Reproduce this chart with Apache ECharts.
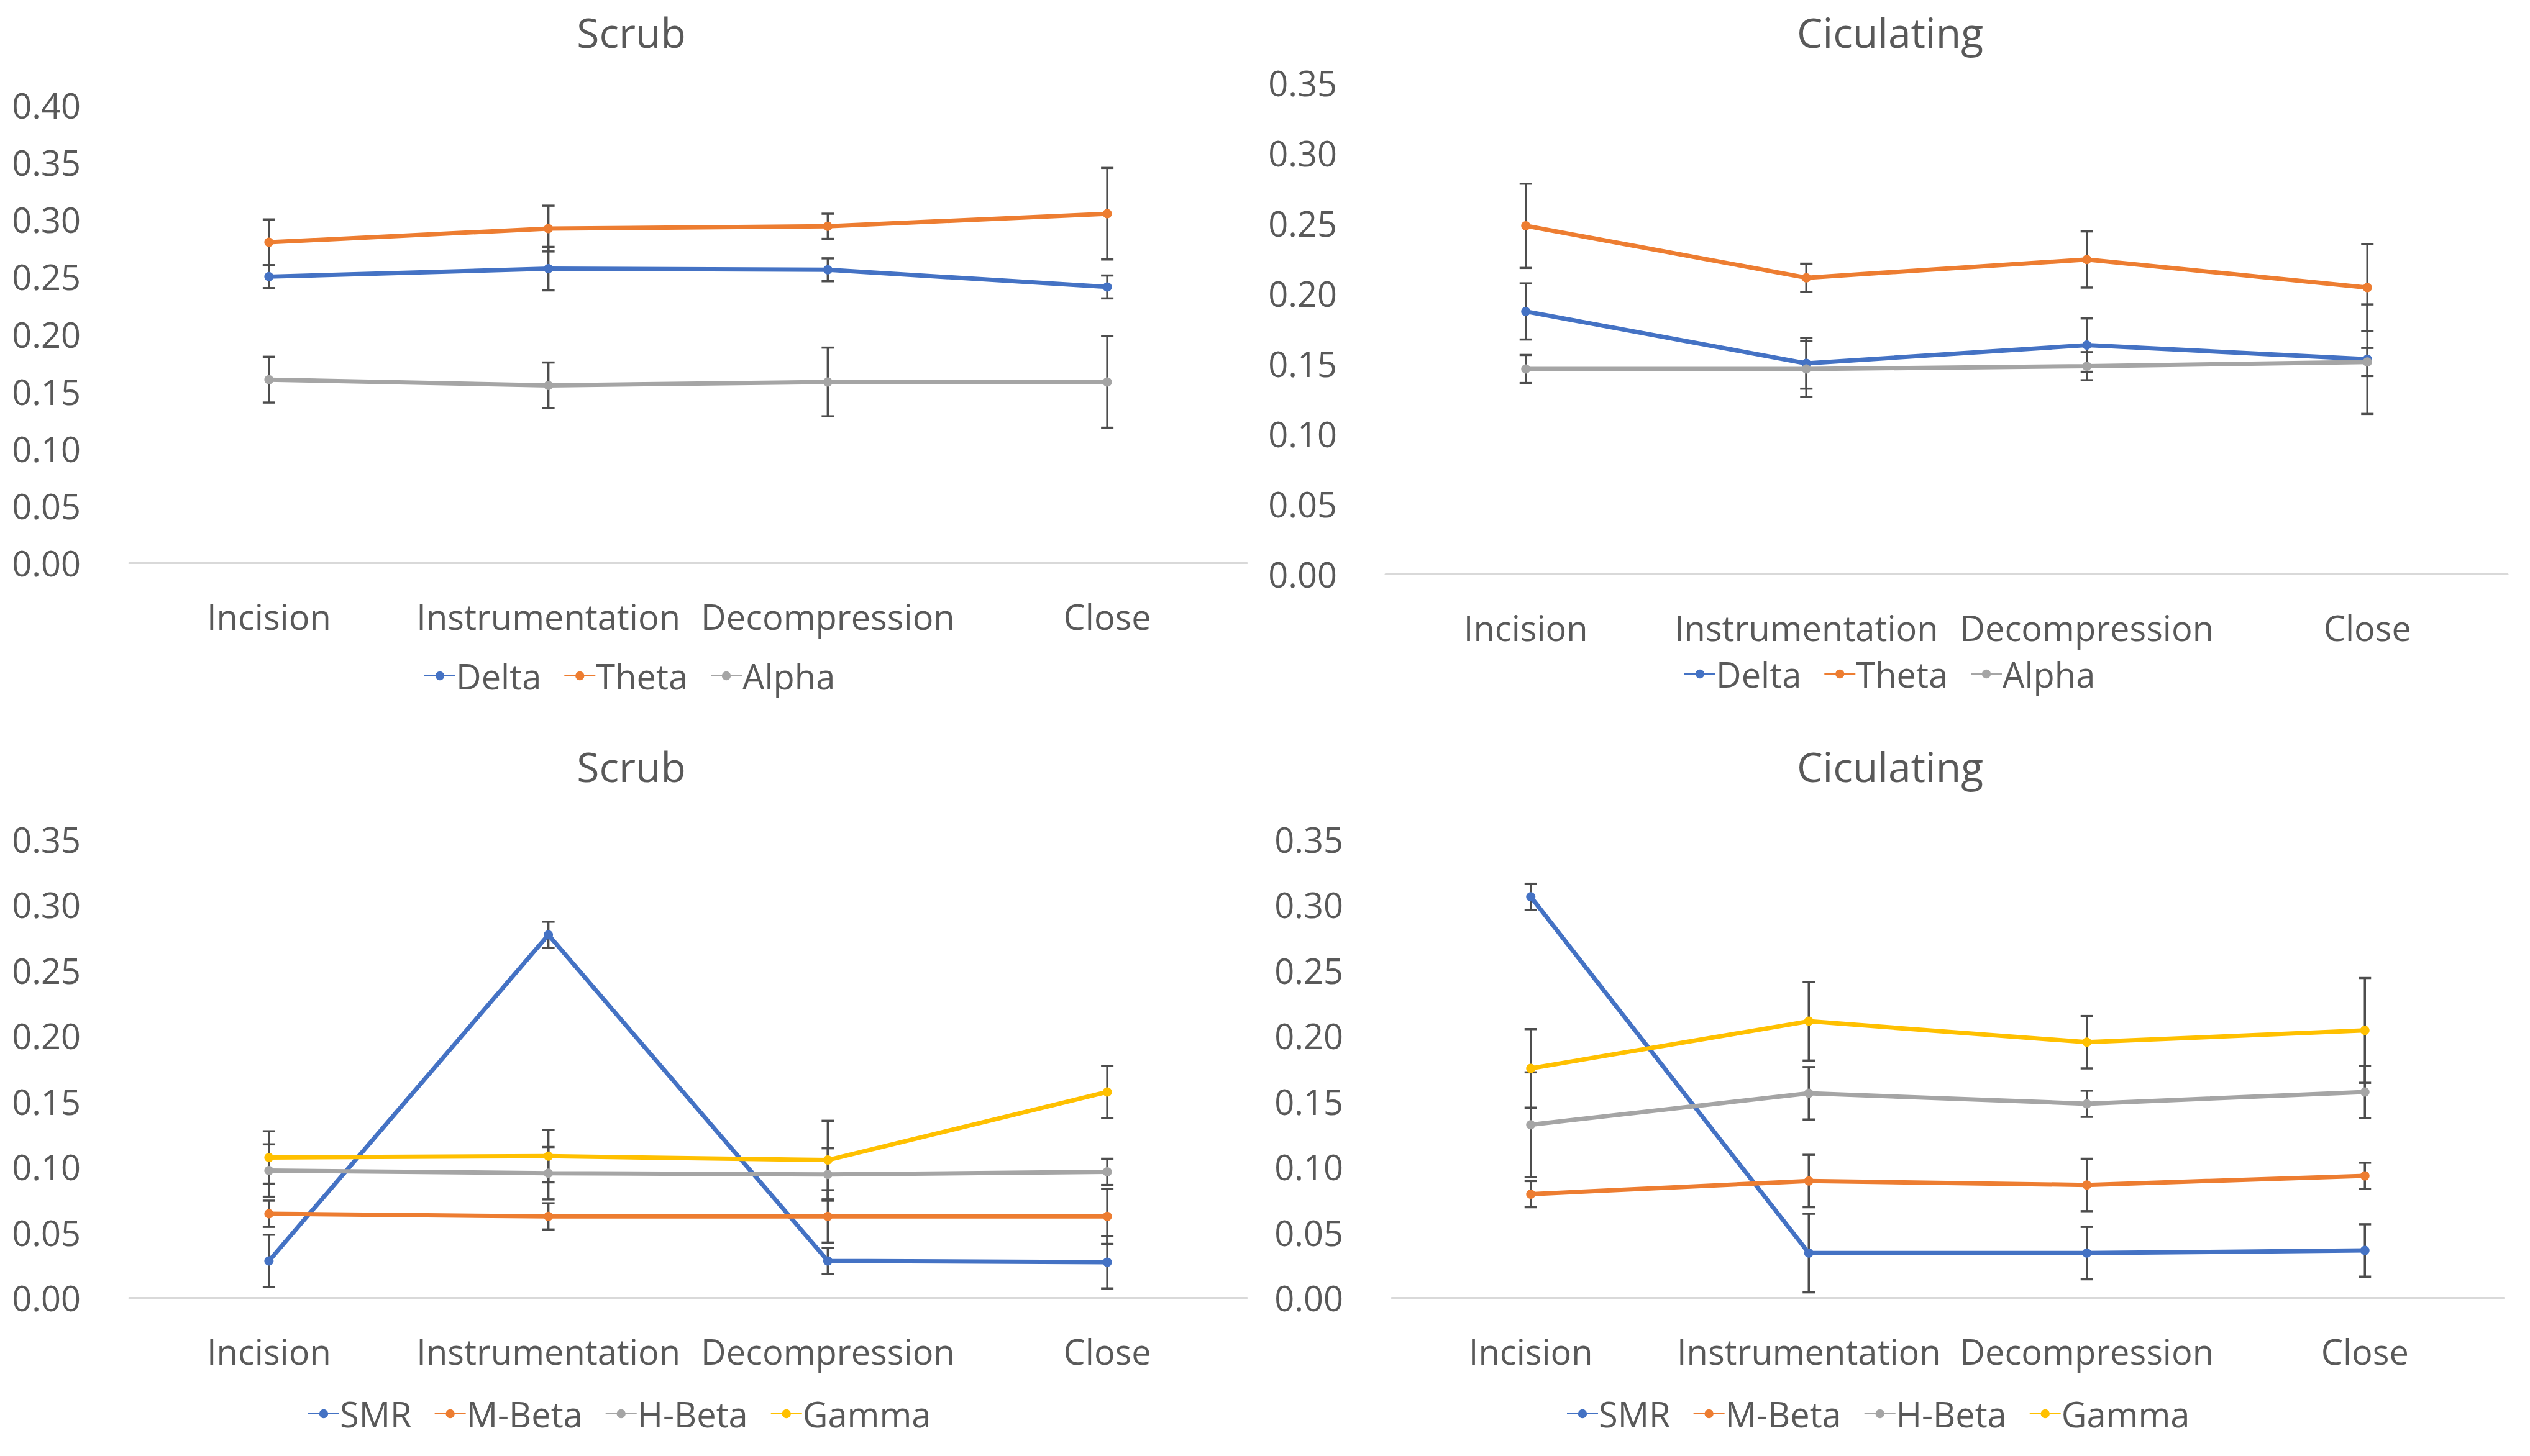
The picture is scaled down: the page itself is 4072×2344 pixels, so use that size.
<!DOCTYPE html>
<html>
<head>
<meta charset="utf-8">
<script src="https://cdn.jsdelivr.net/npm/echarts@6/dist/echarts.min.js"></script>
<style>
  html, body { margin: 0; padding: 0; background: #ffffff; }
  #chart { width: 4072px; height: 2344px; }
</style>
</head>
<body>
<div id="chart"></div>
<script>
// ---------- data ----------
const categories = ['Incision', 'Instrumentation', 'Decompression', 'Close'];

// Top-left: Scrub (Delta / Theta / Alpha)
const scrubDelta    = [0.250, 0.257, 0.256, 0.241];
const scrubDeltaErr = [0.010, 0.019, 0.010, 0.010];
const scrubTheta    = [0.280, 0.292, 0.294, 0.305];
const scrubThetaErr = [0.020, 0.020, 0.011, 0.040];
const scrubAlpha    = [0.160, 0.155, 0.158, 0.158];
const scrubAlphaErr = [0.020, 0.020, 0.030, 0.040];

// Top-right: Ciculating (Delta / Theta / Alpha)
const circDelta    = [0.187, 0.150, 0.163, 0.153];
const circDeltaErr = [0.020, 0.018, 0.019, 0.039];
const circTheta    = [0.248, 0.211, 0.224, 0.204];
const circThetaErr = [0.030, 0.010, 0.020, 0.031];
const circAlpha    = [0.146, 0.146, 0.148, 0.151];
const circAlphaErr = [0.010, 0.020, 0.010, 0.010];

// Bottom-left: Scrub (SMR / M-Beta / H-Beta / Gamma)
const scrubSMR      = [0.028, 0.277, 0.028, 0.027];
const scrubSMRErr   = [0.020, 0.010, 0.010, 0.020];
const scrubMBeta    = [0.064, 0.062, 0.062, 0.062];
const scrubMBetaErr = [0.010, 0.010, 0.020, 0.021];
const scrubHBeta    = [0.097, 0.095, 0.094, 0.096];
const scrubHBetaErr = [0.020, 0.020, 0.020, 0.010];
const scrubGamma    = [0.107, 0.108, 0.105, 0.157];
const scrubGammaErr = [0.020, 0.020, 0.030, 0.020];

// Bottom-right: Ciculating (SMR / M-Beta / H-Beta / Gamma)
const circSMR      = [0.306, 0.034, 0.034, 0.036];
const circSMRErr   = [0.010, 0.030, 0.020, 0.020];
const circMBeta    = [0.079, 0.089, 0.086, 0.093];
const circMBetaErr = [0.010, 0.020, 0.020, 0.010];
const circHBeta    = [0.132, 0.156, 0.148, 0.157];
const circHBetaErr = [0.040, 0.020, 0.010, 0.020];
const circGamma    = [0.175, 0.211, 0.195, 0.204];
const circGammaErr = [0.030, 0.030, 0.020, 0.040];

// axis ranges (tick labels 0.00 .. max step 0.05)
const yMaxTop = [0.40, 0.35];
const yMaxBottom = [0.35, 0.35];
const yStep = 0.05;

const panelTitles = ['Scrub', 'Ciculating', 'Scrub', 'Ciculating'];
const bandNamesTop = ['Delta', 'Theta', 'Alpha'];
const bandNamesBottom = ['SMR', 'M-Beta', 'H-Beta', 'Gamma'];

// ---------- styling / layout ----------
const COLORS = ['#4472C4', '#ED7D31', '#A5A5A5', '#FFC000'];
const TEXT = '#595959';
const FONT = '"Open Sans", "Noto Sans", sans-serif';

const grids = [
  { left: 208,  top: 169,  width: 1799, height: 737 },
  { left: 2230, top: 133,  width: 1806, height: 791 },
  { left: 208,  top: 1351, width: 1799, height: 738 },
  { left: 2240, top: 1351, width: 1790, height: 738 }
];
const titlePos = [
  { x: 1016, y: 18 }, { x: 3042, y: 18 },
  { x: 1016, y: 1200 }, { x: 3042, y: 1200 }
];
const legendPos = [
  { left: 682,  top: 1060 }, { left: 2710, top: 1057 },
  { left: 495,  top: 2248 }, { left: 2521, top: 2248 }
];

const panels = [
  { max: yMaxTop[0], names: bandNamesTop,
    vals: [scrubDelta, scrubTheta, scrubAlpha], errs: [scrubDeltaErr, scrubThetaErr, scrubAlphaErr] },
  { max: yMaxTop[1], names: bandNamesTop,
    vals: [circDelta, circTheta, circAlpha], errs: [circDeltaErr, circThetaErr, circAlphaErr] },
  { max: yMaxBottom[0], names: bandNamesBottom,
    vals: [scrubSMR, scrubMBeta, scrubHBeta, scrubGamma], errs: [scrubSMRErr, scrubMBetaErr, scrubHBetaErr, scrubGammaErr] },
  { max: yMaxBottom[1], names: bandNamesBottom,
    vals: [circSMR, circMBeta, circHBeta, circGamma], errs: [circSMRErr, circMBetaErr, circHBetaErr, circGammaErr] }
];

function errorBarRender(params, api) {
  const xi = api.value(0);
  const lo = api.coord([xi, api.value(1)]);
  const hi = api.coord([xi, api.value(2)]);
  const cap = 10;
  const style = { stroke: '#4d4d4d', lineWidth: 3.5 };
  return {
    type: 'group',
    children: [
      { type: 'line', shape: { x1: hi[0], y1: hi[1], x2: lo[0], y2: lo[1] }, style: style },
      { type: 'line', shape: { x1: hi[0] - cap, y1: hi[1], x2: hi[0] + cap, y2: hi[1] }, style: style },
      { type: 'line', shape: { x1: lo[0] - cap, y1: lo[1], x2: lo[0] + cap, y2: lo[1] }, style: style }
    ]
  };
}

const option = {
  backgroundColor: '#ffffff',
  animation: false,
  textStyle: { fontFamily: FONT },
  title: panels.map((p, i) => ({
    text: panelTitles[i],
    left: titlePos[i].x,
    top: titlePos[i].y,
    textAlign: 'center',
    padding: 0,
    textStyle: { fontFamily: FONT, fontSize: 66, fontWeight: 'normal', color: TEXT }
  })),
  legend: panels.map((p, i) => ({
    data: p.names,
    left: legendPos[i].left,
    top: legendPos[i].top,
    orient: 'horizontal',
    itemWidth: 50,
    itemHeight: 18,
    itemGap: 36,
    padding: 0,
    selectedMode: false,
    textStyle: { fontFamily: FONT, fontSize: 56, color: TEXT, padding: [0, 0, 0, -4] }
  })),
  grid: grids.map(g => Object.assign({ containLabel: false }, g)),
  xAxis: panels.map((p, i) => ({
    type: 'category',
    gridIndex: i,
    data: categories,
    boundaryGap: true,
    axisLine: { lineStyle: { color: '#D9D9D9', width: 3 } },
    axisTick: { show: false },
    splitLine: { show: false },
    axisLabel: { color: TEXT, fontFamily: FONT, fontSize: 56, margin: 58, interval: 0 }
  })),
  yAxis: panels.map((p, i) => ({
    type: 'value',
    gridIndex: i,
    min: 0,
    max: p.max,
    interval: yStep,
    axisLine: { show: false },
    axisTick: { show: false },
    splitLine: { show: false },
    axisLabel: {
      color: TEXT, fontFamily: FONT, fontSize: 56, margin: 78,
      formatter: v => v.toFixed(2)
    }
  })),
  series: []
};

panels.forEach((p, i) => {
  p.names.forEach((name, k) => {
    option.series.push({
      name: 'err-' + i + '-' + name,
      type: 'custom',
      xAxisIndex: i,
      yAxisIndex: i,
      z: 2,
      silent: true,
      renderItem: errorBarRender,
      encode: { x: 0, y: [1, 2] },
      data: p.vals[k].map((v, j) => [j, v - p.errs[k][j], v + p.errs[k][j]])
    });
  });
  p.names.forEach((name, k) => {
    option.series.push({
      name: name,
      type: 'line',
      xAxisIndex: i,
      yAxisIndex: i,
      z: 3,
      data: p.vals[k],
      symbol: 'circle',
      symbolSize: 15,
      showSymbol: true,
      lineStyle: { color: COLORS[k], width: 7 },
      itemStyle: { color: COLORS[k] }
    });
  });
});

const chart = echarts.init(document.getElementById('chart'), null, { renderer: 'svg', width: 4072, height: 2344 });
chart.setOption(option);
</script>
</body>
</html>
